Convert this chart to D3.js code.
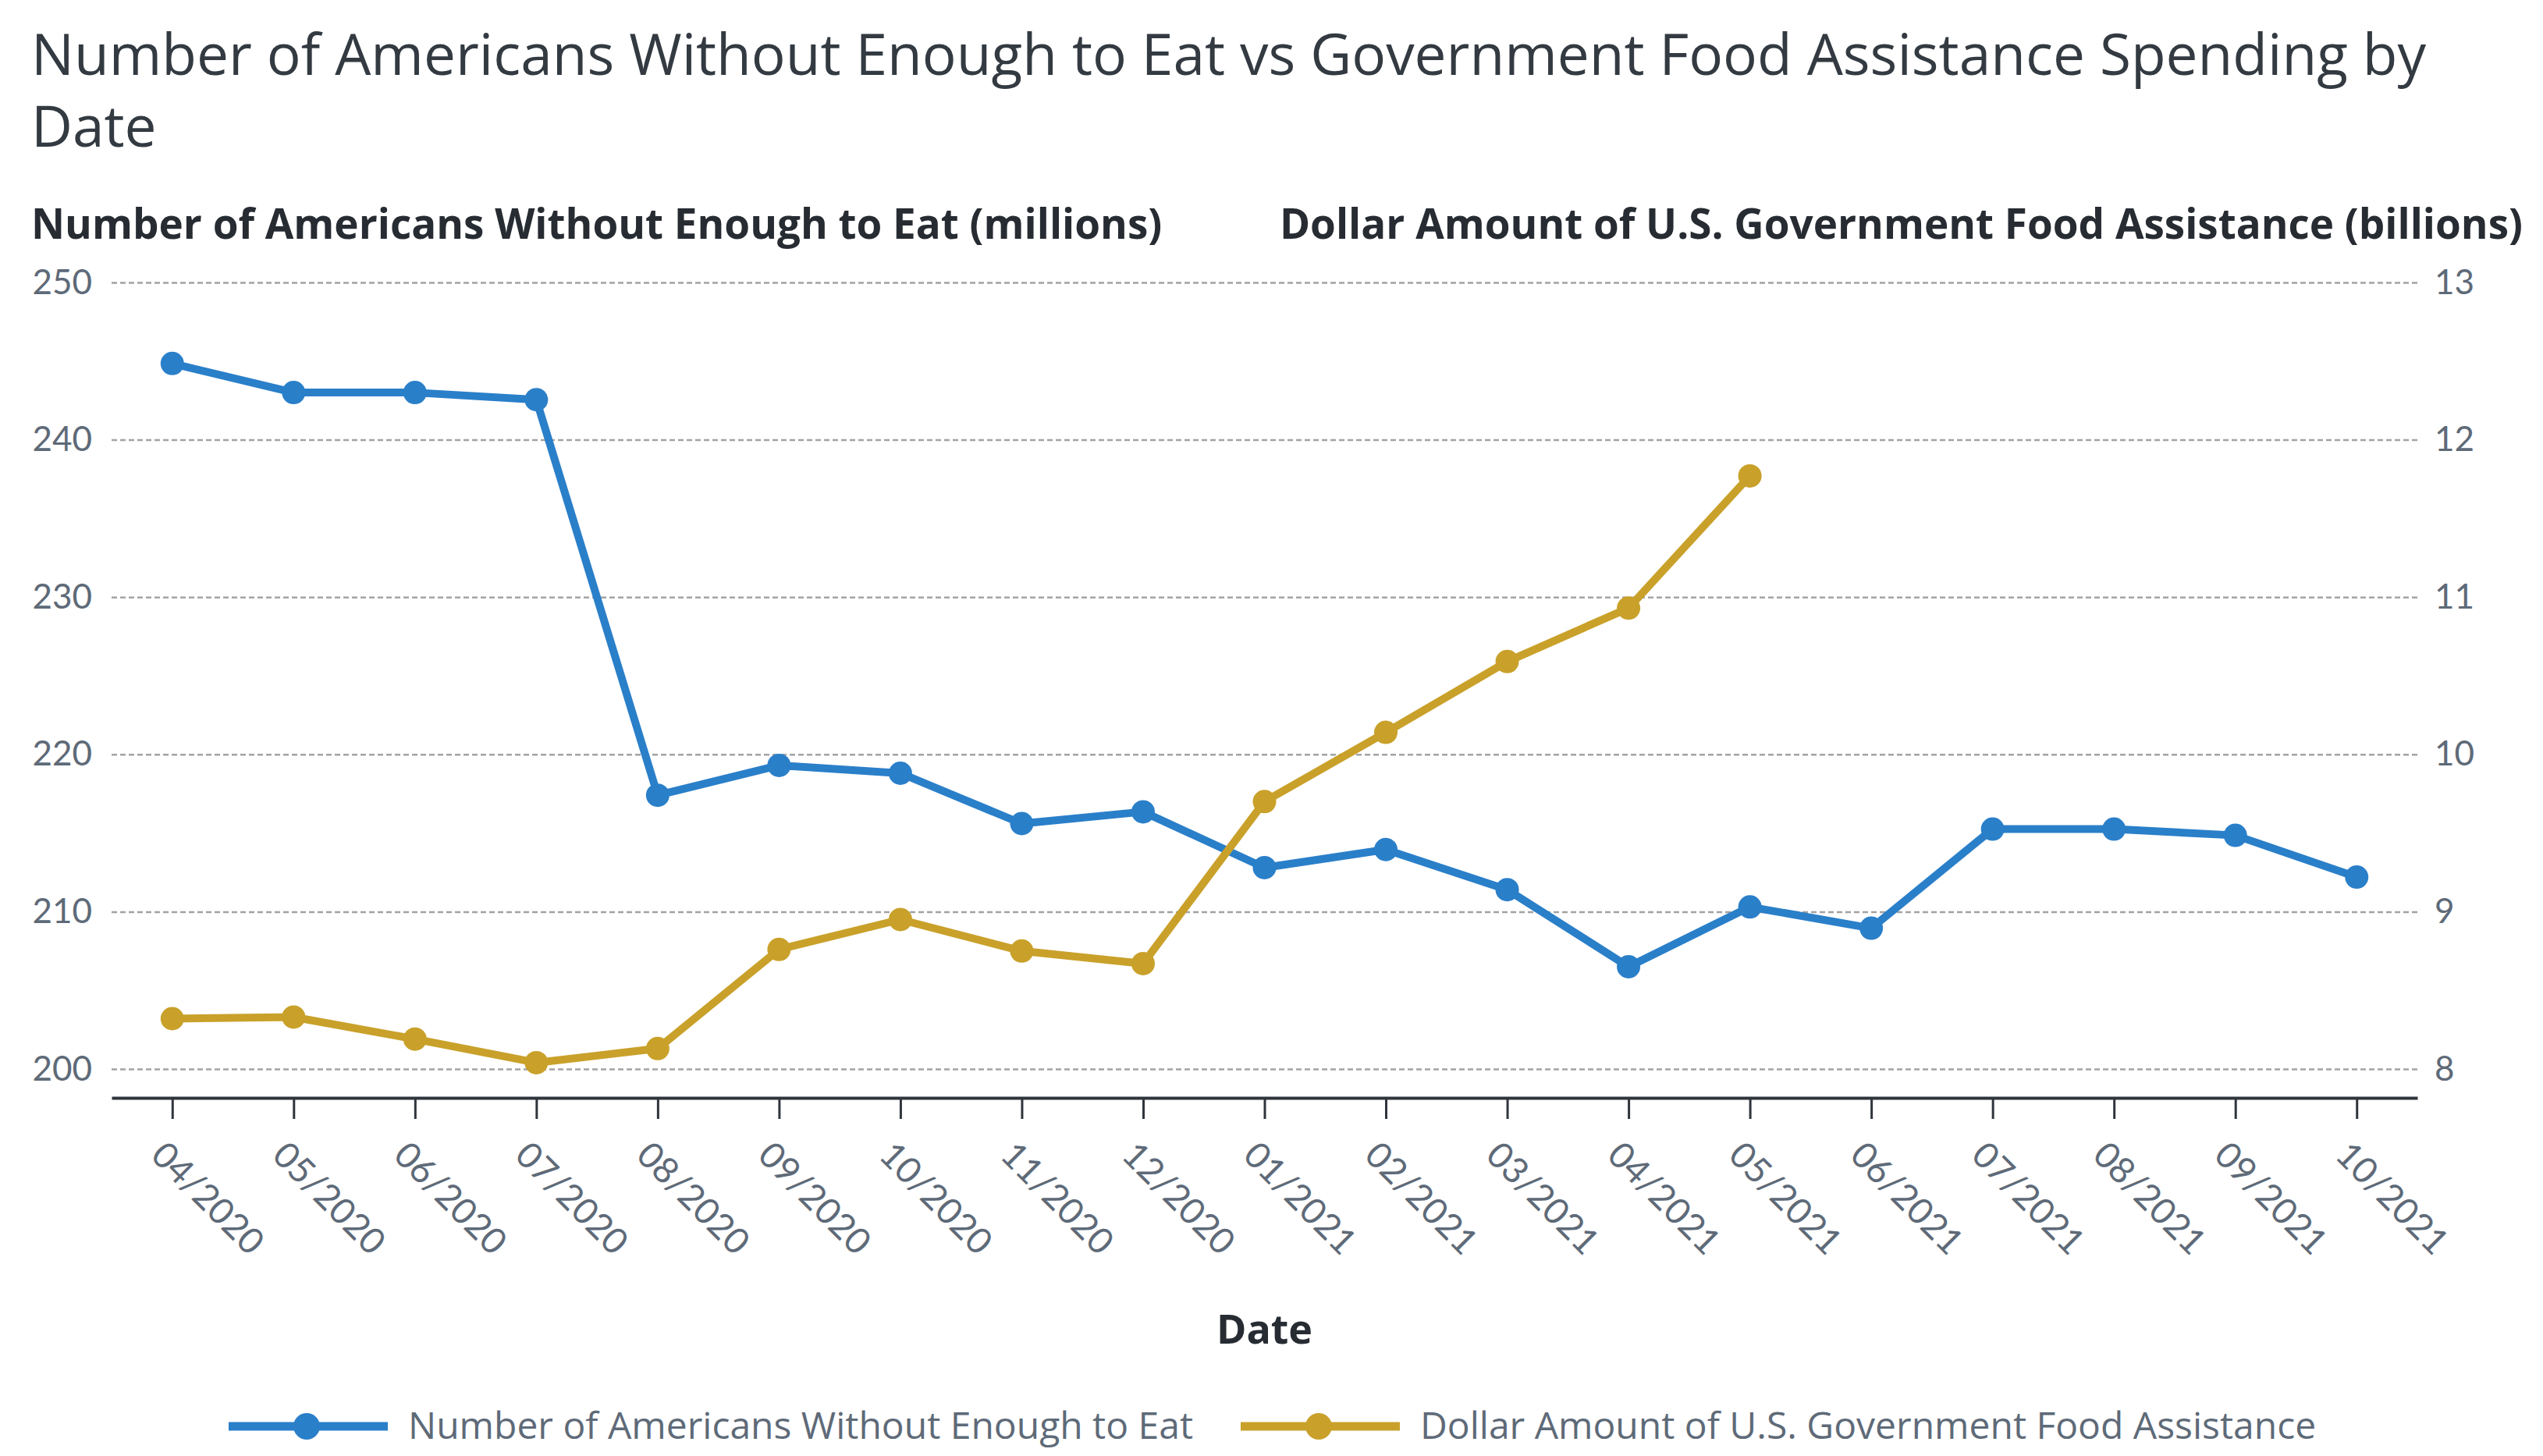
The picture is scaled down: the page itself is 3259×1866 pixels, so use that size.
<!DOCTYPE html>
<html>
<head>
<meta charset="utf-8">
<script src="https://cdn.jsdelivr.net/npm/d3@7"></script>
<style>
  body { margin: 0; background: #fff; }
  svg { display: block; font-family: "Open Sans", Lato, sans-serif; }
</style>
</head>
<body>
<div id="chart"></div>
<script>
// data
var months = ["04/2020", "05/2020", "06/2020", "07/2020", "08/2020", "09/2020", "10/2020", "11/2020", "12/2020",
  "01/2021", "02/2021", "03/2021", "04/2021", "05/2021", "06/2021", "07/2021", "08/2021", "09/2021", "10/2021"];
var peopleMillions = [244.85, 243.0, 243.0, 242.55, 217.4, 219.3, 218.8, 215.6, 216.35,
  212.8, 213.95, 211.4, 206.5, 210.3, 208.95, 215.25, 215.25, 214.85, 212.2];
var assistanceBillions = [8.32, 8.33, 8.19, 8.04, 8.13, 8.76, 8.95, 8.75, 8.67,
  9.70, 10.14, 10.59, 10.93, 11.77, null, null, null, null, null];
var leftTicks = [200, 210, 220, 230, 240, 250];
var rightTicks = [8, 9, 10, 11, 12, 13];
var seriesNames = ["Number of Americans Without Enough to Eat", "Dollar Amount of U.S. Government Food Assistance"];

var width = 3259;
var height = 1866;
var plotLeft = 143, plotRight = 3098, plotTop = 362, plotBottom = 1370, axisY = 1407;
var blue = "#2a7fc9";
var gold = "#c9a12a";

var svg = d3.select("#chart").append("svg")
  .attr("width", width)
  .attr("height", height);

svg.append("rect").attr("width", width).attr("height", height).attr("fill", "#fff");

/* Title */
var title = svg.append("text")
  .attr("x", 40)
  .attr("y", 96)
  .attr("fill", "#333a41")
  .style("font-size", "73px");
title.append("tspan").attr("x", 40).text("Number of Americans Without Enough to Eat vs Government Food Assistance Spending by");
title.append("tspan").attr("x", 40).attr("dy", 92).text("Date");

/* Axis titles */
svg.append("text")
  .attr("x", 40).attr("y", 306)
  .attr("fill", "#272c33")
  .style("font-size", "53px").style("font-weight", "bold")
  .text("Number of Americans Without Enough to Eat (millions)");

svg.append("text")
  .attr("x", 3233).attr("y", 306)
  .attr("text-anchor", "end")
  .attr("fill", "#272c33")
  .style("font-size", "53px").style("font-weight", "bold")
  .text("Dollar Amount of U.S. Government Food Assistance (billions)");

/* Scales */
var xScale = d3.scalePoint()
  .domain(months)
  .range([plotLeft, plotRight])
  .padding(0.5);

var yLeft = d3.scaleLinear()
  .domain([200, 250])
  .range([plotBottom, plotTop]);

var yRight = d3.scaleLinear()
  .domain([8, 13])
  .range([plotBottom, plotTop]);

/* Grid + left axis */
var gLeft = svg.append("g")
  .attr("class", "y axis left")
  .attr("transform", `translate(${plotLeft}, 0)`)
  .call(d3.axisLeft(yLeft).tickValues(leftTicks).tickSize(-(plotRight - plotLeft)).tickPadding(25));
gLeft.select(".domain").remove();
gLeft.selectAll(".tick line")
  .attr("stroke", "#a3a3a3")
  .attr("stroke-width", 2.5)
  .attr("stroke-dasharray", "7,4");
gLeft.selectAll(".tick text")
  .attr("fill", "#5e6a78")
  .style("font-size", "44px")
  .style("font-family", "Lato, sans-serif");

/* Right axis */
var gRight = svg.append("g")
  .attr("class", "y axis right")
  .attr("transform", `translate(${plotRight}, 0)`)
  .call(d3.axisRight(yRight).tickValues(rightTicks).tickFormat(d3.format("d")).tickSize(0).tickPadding(22));
gRight.select(".domain").remove();
gRight.selectAll(".tick text")
  .attr("fill", "#5e6a78")
  .style("font-size", "44px")
  .style("font-family", "Lato, sans-serif");

/* X axis */
var gX = svg.append("g")
  .attr("class", "x axis")
  .attr("transform", `translate(0, ${axisY})`)
  .call(d3.axisBottom(xScale).tickSize(27).tickSizeOuter(0));
gX.select(".domain")
  .attr("stroke", "#2f353d")
  .attr("stroke-width", 4);
gX.selectAll(".tick line")
  .attr("stroke", "#2f353d")
  .attr("stroke-width", 3);
gX.selectAll(".tick text")
  .attr("x", 0).attr("y", 0).attr("dy", 0)
  .attr("transform", "translate(-30, 76) rotate(45)")
  .attr("text-anchor", "start")
  .attr("fill", "#5e6a78")
  .style("font-size", "46px")
  .style("font-family", "Lato, sans-serif");

svg.append("text")
  .attr("x", (plotLeft + plotRight) / 2)
  .attr("y", 1722)
  .attr("text-anchor", "middle")
  .attr("fill", "#272c33")
  .style("font-size", "52px").style("font-weight", "bold")
  .text("Date");

/* Lines */
var blueLine = d3.line()
  .x((d, i) => xScale(months[i]))
  .y(d => yLeft(d));

var goldLine = d3.line()
  .defined(d => d != null)
  .x((d, i) => xScale(months[i]))
  .y(d => yRight(d));

svg.append("path")
  .attr("d", blueLine(peopleMillions))
  .attr("fill", "none")
  .attr("stroke", blue)
  .attr("stroke-width", 10)
  .attr("stroke-linejoin", "round");

svg.append("path")
  .attr("d", goldLine(assistanceBillions))
  .attr("fill", "none")
  .attr("stroke", gold)
  .attr("stroke-width", 10)
  .attr("stroke-linejoin", "round");

svg.append("g").selectAll("circle")
  .data(peopleMillions).enter()
  .append("circle")
  .attr("cx", (d, i) => xScale(months[i]))
  .attr("cy", d => yLeft(d))
  .attr("r", 15)
  .attr("fill", blue);

svg.append("g").selectAll("circle")
  .data(assistanceBillions.map((v, i) => ({ v: v, m: months[i] })).filter(d => d.v != null)).enter()
  .append("circle")
  .attr("cx", d => xScale(d.m))
  .attr("cy", d => yRight(d.v))
  .attr("r", 15)
  .attr("fill", gold);

/* Legend */
var legendX = [293, 1590];
var legendColors = [blue, gold];
var legend = svg.append("g").attr("class", "legend");
seriesNames.forEach(function(name, i) {
  var g = legend.append("g").attr("transform", `translate(${legendX[i]}, 1828)`);
  g.append("line")
    .attr("x1", 0).attr("x2", 204)
    .attr("stroke", legendColors[i])
    .attr("stroke-width", 11);
  g.append("circle")
    .attr("cx", 100).attr("r", 17)
    .attr("fill", legendColors[i]);
  g.append("text")
    .attr("x", 230).attr("y", 16)
    .attr("fill", "#5e6a78")
    .style("font-size", "48px")
    .text(name);
});
</script>
</body>
</html>
